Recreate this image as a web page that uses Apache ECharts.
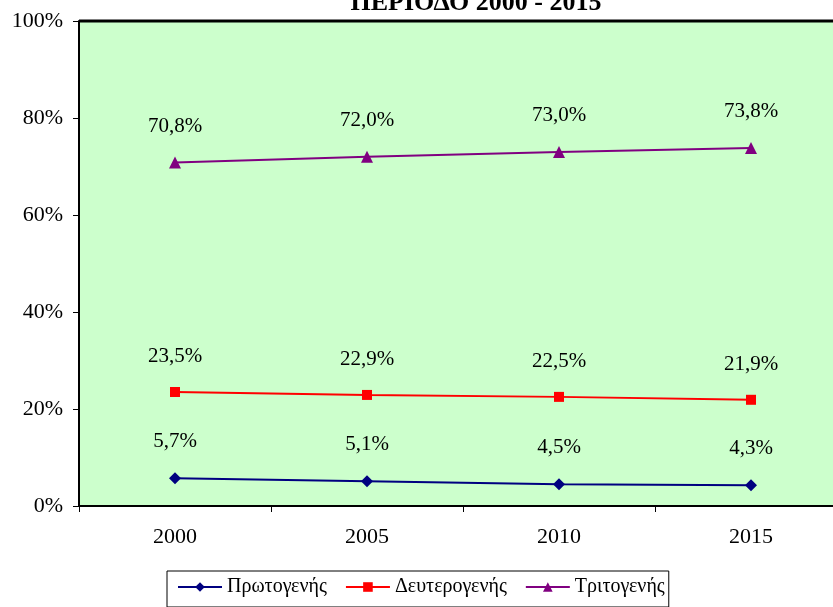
<!DOCTYPE html>
<html>
<head>
<meta charset="utf-8">
<script src="https://cdn.jsdelivr.net/npm/echarts@6/dist/echarts.min.js"></script>
<style>
  html, body { margin: 0; padding: 0; background: #fff; }
  #chart { width: 833px; height: 607px; }
</style>
</head>
<body>
<div id="chart"></div>
<script>
const years = ['2000', '2005', '2010', '2015'];
const primary = [5.7, 5.1, 4.5, 4.3];
const secondary = [23.5, 22.9, 22.5, 21.9];
const tertiary = [70.8, 72.0, 73.0, 73.8];
const seriesNames = ['Πρωτογενής', 'Δευτερογενής', 'Τριτογενής'];

const serif = '"Liberation Serif", "DejaVu Serif", serif';

function fmt(v) {
  return v.toFixed(1).replace('.', ',') + '%';
}

function makeSeries(name, data, color, symbol, size) {
  return {
    name: name,
    type: 'line',
    data: data,
    symbol: symbol,
    symbolSize: size,
    lineStyle: { color: color, width: 2 },
    itemStyle: { color: color },
    label: {
      show: true,
      position: 'top',
      distance: 20,
      color: '#000',
      fontFamily: serif,
      fontSize: 21,
      formatter: p => fmt(p.value)
    }
  };
}

const chart = echarts.init(document.getElementById('chart'));
chart.setOption({
  animation: false,
  title: {
    text: 'ΠΕΡΙΟΔΟ 2000 - 2015',
    left: 471,
    textAlign: 'center',
    top: -15,
    textStyle: { fontFamily: serif, fontSize: 26, fontWeight: 'bold', color: '#000' }
  },
  legend: {
    data: seriesNames,
    left: 167,
    top: 571,
    borderColor: '#000',
    borderWidth: 1,
    padding: [6, 4, 10, 10],
    itemGap: 18,
    itemWidth: 44,
    itemHeight: 12,
    textStyle: { fontFamily: serif, fontSize: 20, color: '#000' }
  },
  grid: {
    left: 79,
    top: 21,
    width: 768,
    height: 485,
    outerBoundsMode: 'none',
    show: true,
    backgroundColor: '#ccffcc',
    borderWidth: 0
  },
  xAxis: {
    type: 'category',
    data: years,
    boundaryGap: true,
    axisLine: { lineStyle: { color: '#000', width: 2 } },
    axisTick: { show: true, length: 6, lineStyle: { color: '#000' } },
    axisLabel: { color: '#000', fontFamily: serif, fontSize: 22, margin: 20 }
  },
  yAxis: {
    type: 'value',
    min: 0,
    max: 100,
    interval: 20,
    axisLine: { show: true, lineStyle: { color: '#000', width: 2 } },
    axisTick: { show: true, length: 6, lineStyle: { color: '#000' } },
    splitLine: { show: false },
    axisLabel: { color: '#000', fontFamily: serif, fontSize: 22, margin: 16, formatter: '{value}%' }
  },
  series: [
    makeSeries(seriesNames[0], primary, '#000080', 'diamond', 12),
    makeSeries(seriesNames[1], secondary, '#ff0000', 'rect', 10),
    makeSeries(seriesNames[2], tertiary, '#800080', 'triangle', 12)
  ],
  graphic: [{
    type: 'line',
    shape: { x1: 79, y1: 21, x2: 833, y2: 21 },
    style: { stroke: '#000', lineWidth: 3 }
  }]
});
</script>
</body>
</html>
